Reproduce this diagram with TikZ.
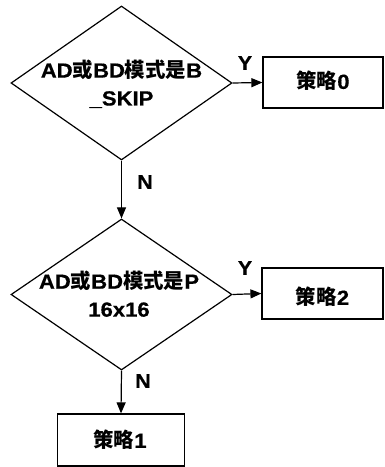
\documentclass[tikz,border=0pt]{standalone}
\usepackage{fontspec}
\setmainfont{Liberation Sans}[FakeStretch=1.08,FakeBold=0.6]
\newfontfamily\cjk{Noto Sans CJK SC}
\newcommand{\zh}[1]{{\cjk #1}}
\usetikzlibrary{shapes.geometric,arrows.meta}
\begin{document}
\begin{tikzpicture}[x=1bp,y=-1bp,
  line width=1.2bp,
  dia/.style={draw,diamond,inner sep=0pt,minimum width=221bp,minimum height=154bp},
  box/.style={draw,rectangle,inner sep=0pt,minimum height=51bp},
  txt/.style={font=\fontsize{20.5}{28}\selectfont\bfseries,align=center,inner sep=0pt},
  lbl/.style={font=\fontsize{20}{22}\selectfont\bfseries,inner sep=0pt},
  arr/.style={-{Triangle[length=11bp,width=9bp]}}]
\useasboundingbox (0,0) rectangle (384,467);
\node[dia] (d1) at (121.5,83) {};
\node[txt] (t1) at (121.5,84) {AD\zh{或}BD\zh{模式是}B\\\_SKIP};
\node[box,minimum width=120bp] (b0) at (323,82.5) {};
\node[txt] (t0) at (323,81) {\zh{策略}0};
\node[dia,minimum height=151bp] (d2) at (121.5,294.5) {};
\node[txt] (t2) at (119,294) {AD\zh{或}BD\zh{模式是}P\\16x16};
\node[box,minimum width=121bp] (b2) at (322.5,293.5) {};
\node[txt] (tb2) at (322.5,297) {\zh{策略}2};
\node[box,minimum width=127bp,minimum height=52bp] (b1) at (121,440) {};
\node[txt] (tb1) at (120,440) {\zh{策略}1};
\draw[arr] (d1.east) -- (b0.west);
\draw[arr] (d2.east) -- (b2.west);
\draw[arr] (d1.south) -- (d2.north);
\draw[arr] (d2.south) -- (b1.north);
\node[lbl] (y1) at (245,63) {Y};
\node[lbl] (y2) at (245,268) {Y};
\node[lbl] (n1) at (145,182) {N};
\node[lbl] (n2) at (143,381) {N};
\end{tikzpicture}
\end{document}
